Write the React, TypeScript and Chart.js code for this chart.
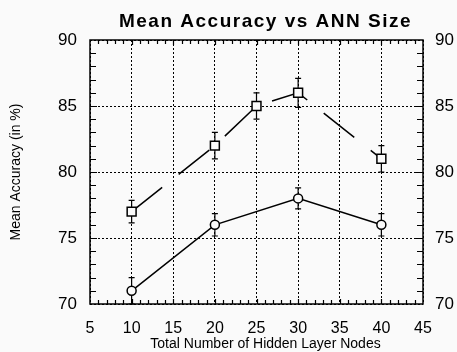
import { useEffect, useRef } from 'react';
import { Chart, registerables } from 'chart.js';

Chart.register(...registerables);

const chartTitle = 'Mean Accuracy vs ANN Size';
const xAxisTitle = 'Total Number of Hidden Layer Nodes';
const yAxisTitle = 'Mean Accuracy (in %)';

const squareNodes = [10, 20, 25, 30, 40];
const squareAccuracy = [77, 82, 85, 86, 81];
const squareError = [0.85, 1, 1, 1.1, 1];

const circleNodes = [10, 20, 30, 40];
const circleAccuracy = [71, 76, 78, 76];
const circleError = [1, 0.85, 0.8, 0.85];

const xMin = 5;
const xMax = 45;
const xStep = 5;
const yMin = 70;
const yMax = 90;
const yStep = 5;
const minorStep = 1;

const BG = '#fafafa';
const FONT = '"Liberation Sans", Arial, Helvetica, sans-serif';

const bgPlugin = {
  id: 'bg',
  beforeDraw(chart: any) {
    const ctx = chart.ctx;
    ctx.save();
    ctx.fillStyle = BG;
    ctx.fillRect(0, 0, chart.width, chart.height);
    ctx.restore();
  },
};

const errorBarPlugin = {
  id: 'errorBars',
  beforeDatasetsDraw(chart: any) {
    const ctx = chart.ctx;
    const xs = chart.scales.x;
    const ys = chart.scales.y;
    ctx.save();
    ctx.strokeStyle = '#000';
    ctx.lineWidth = 1.2;
    chart.data.datasets.forEach((ds: any) => {
      ds.data.forEach((p: any, j: number) => {
        const e = ds.errors[j];
        const x = xs.getPixelForValue(p.x);
        const yt = ys.getPixelForValue(p.y + e);
        const yb = ys.getPixelForValue(p.y - e);
        ctx.beginPath();
        ctx.moveTo(x, yt);
        ctx.lineTo(x, yb);
        ctx.moveTo(x - 3, yt);
        ctx.lineTo(x + 3, yt);
        ctx.moveTo(x - 3, yb);
        ctx.lineTo(x + 3, yb);
        ctx.stroke();
      });
    });
    ctx.restore();
  },
};

const framePlugin = {
  id: 'frame',
  afterDatasetsDraw(chart: any) {
    const ctx = chart.ctx;
    const { left, right, top, bottom } = chart.chartArea;
    const xs = chart.scales.x;
    const ys = chart.scales.y;
    ctx.save();
    ctx.strokeStyle = '#000';
    ctx.lineWidth = 1.5;
    ctx.setLineDash([]);
    ctx.strokeRect(left, top, right - left, bottom - top);
    ctx.lineWidth = 1.2;
    ctx.beginPath();
    for (let v = xMin + minorStep; v < xMax; v += minorStep) {
      const x = Math.round(xs.getPixelForValue(v)) + 0.5;
      const len = v % xStep === 0 ? 5 : 4;
      ctx.moveTo(x, bottom);
      ctx.lineTo(x, bottom - len);
      ctx.moveTo(x, top);
      ctx.lineTo(x, top + len);
    }
    for (let v = yMin + minorStep; v < yMax; v += minorStep) {
      const y = Math.round(ys.getPixelForValue(v)) + 0.5;
      const len = v % yStep === 0 ? 7 : 6;
      ctx.moveTo(left, y);
      ctx.lineTo(left + len, y);
      ctx.moveTo(right, y);
      ctx.lineTo(right - len, y);
    }
    ctx.stroke();
    ctx.restore();
  },
};

const titlePlugin = {
  id: 'titles',
  afterDraw(chart: any) {
    const ctx = chart.ctx;
    const { left, right } = chart.chartArea;
    const cx = (left + right) / 2 + 9;
    ctx.save();
    ctx.fillStyle = '#000';
    ctx.textAlign = 'center';
    ctx.textBaseline = 'alphabetic';
    ctx.font = `bold 19px ${FONT}`;
    (ctx as any).letterSpacing = '1.5px';
    ctx.fillText(chartTitle, cx, 27);
    (ctx as any).letterSpacing = '0px';
    ctx.font = `14px ${FONT}`;
    ctx.fillText(xAxisTitle, cx, 348);
    ctx.restore();
  },
};

export default function App() {
  const ref = useRef<HTMLCanvasElement>(null);

  useEffect(() => {
    if (!ref.current) return;
    const gridStyle = { color: '#000', lineWidth: 1, drawTicks: false };
    const chart = new Chart(ref.current, {
      type: 'line',
      data: {
        datasets: [
          {
            label: 'squares',
            data: squareNodes.map((x, i) => ({ x, y: squareAccuracy[i] })),
            errors: squareError,
            borderColor: '#000',
            borderWidth: 1.5,
            borderDash: [39, 21],
            pointStyle: 'rect',
            pointRadius: 6.3,
            pointBorderWidth: 1.5,
            pointBorderColor: '#000',
            pointBackgroundColor: BG,
            fill: false,
            tension: 0,
          } as any,
          {
            label: 'circles',
            data: circleNodes.map((x, i) => ({ x, y: circleAccuracy[i] })),
            errors: circleError,
            borderColor: '#000',
            borderWidth: 1.5,
            pointStyle: 'circle',
            pointRadius: 4.5,
            pointBorderWidth: 1.5,
            pointBorderColor: '#000',
            pointBackgroundColor: BG,
            fill: false,
            tension: 0,
          } as any,
        ],
      },
      options: {
        animation: false,
        responsive: false,
        devicePixelRatio: 1,
        layout: { padding: { top: 40, left: 0, right: 0, bottom: 0 } },
        plugins: {
          legend: { display: false },
          title: { display: false },
          tooltip: { enabled: false },
        },
        scales: {
          x: {
            type: 'linear',
            position: 'bottom',
            min: xMin,
            max: xMax,
            ticks: {
              stepSize: xStep,
              color: '#000',
              padding: 15,
              font: { size: 16, family: FONT },
            },
            grid: gridStyle,
            border: { display: false, dash: [2, 2] },
            afterFit(s: any) {
              s.height = 48;
            },
          },
          y: {
            type: 'linear',
            position: 'left',
            min: yMin,
            max: yMax,
            ticks: {
              stepSize: yStep,
              color: '#000',
              padding: 13,
              font: { size: 17, family: FONT },
            },
            grid: gridStyle,
            border: { display: false, dash: [2, 2] },
            title: {
              display: true,
              text: yAxisTitle,
              color: '#000',
              font: { size: 14, family: FONT },
              padding: { top: 7.3, bottom: 0 },
            },
            afterFit(s: any) {
              s.width = 90;
            },
          },
          y2: {
            type: 'linear',
            position: 'right',
            min: yMin,
            max: yMax,
            ticks: {
              stepSize: yStep,
              color: '#000',
              padding: 12,
              font: { size: 17, family: FONT },
            },
            grid: { display: false, drawTicks: false },
            border: { display: false },
            afterFit(s: any) {
              s.width = 34;
            },
          },
        },
      } as any,
      plugins: [bgPlugin, errorBarPlugin, framePlugin, titlePlugin],
    });
    return () => chart.destroy();
  }, []);

  return (
    <div style={{ position: 'absolute', left: 0, top: 0, width: 457, height: 352 }}>
      <canvas ref={ref} width={457} height={352} style={{ display: 'block' }} />
    </div>
  );
}
